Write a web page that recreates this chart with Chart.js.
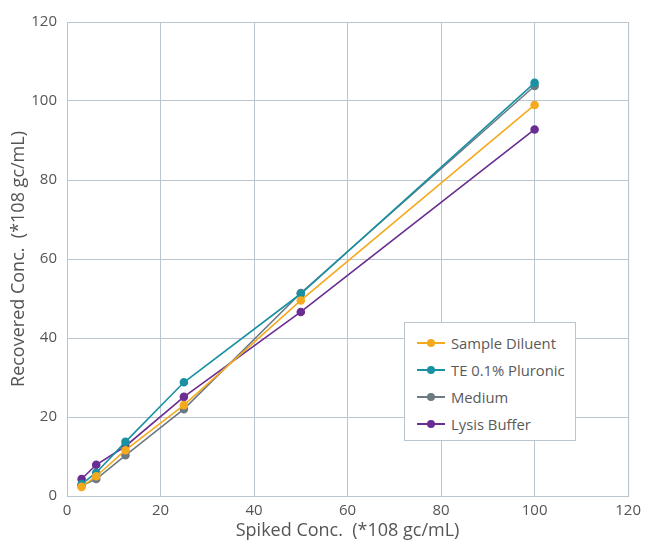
<!DOCTYPE html>
<html lang="en">
<head>
    <meta charset="UTF-8">
    <title>Recovered vs Spiked Concentration</title>
    <script src="https://cdn.jsdelivr.net/npm/chart.js"></script>
    <style>
        * {
            margin: 0;
            padding: 0;
            box-sizing: border-box;
        }

        body {
            background: #ffffff;
            font-family: "Open Sans", "Lato", sans-serif;
        }

        .chart-wrap {
            position: relative;
            width: 647px;
            height: 542px;
        }

        .legend-box {
            position: absolute;
            left: 404px;
            top: 322px;
            width: 172px;
            height: 119px;
            background: #ffffff;
            border: 1px solid #b9c5cf;
            padding: 6px 0 0 12px;
        }

        .legend-item {
            display: flex;
            align-items: center;
            height: 27px;
            font-size: 14.8px;
            color: #5a5a5a;
        }

        .legend-line {
            position: relative;
            width: 28px;
            height: 2px;
            margin-right: 6px;
        }

        .legend-line span {
            position: absolute;
            left: 10px;
            top: -3px;
            width: 8px;
            height: 8px;
            border-radius: 50%;
        }
    </style>
</head>
<body>
    <div class="chart-wrap">
        <canvas id="recovery-chart" width="647" height="542"></canvas>
        <div class="legend-box" id="legend"></div>
    </div>

    <script>
        // values
        const spiked = [3.125, 6.25, 12.5, 25, 50, 100];
        const sampleDiluent = [2.3, 5.0, 11.6, 23.0, 49.5, 99.0];
        const tePluronic = [3.0, 5.9, 13.7, 28.8, 51.2, 104.6];
        const medium = [2.6, 4.3, 10.3, 22.0, 51.4, 103.8];
        const lysisBuffer = [4.3, 7.9, 12.6, 25.1, 46.6, 92.8];

        const seriesNames = ['Sample Diluent', 'TE 0.1% Pluronic', 'Medium', 'Lysis Buffer'];
        const seriesColors = ['#f5a91d', '#1991a3', '#6c7a83', '#6a2d91'];
        const seriesValues = [sampleDiluent, tePluronic, medium, lysisBuffer];

        const gridColor = '#b9c5cf';
        const textColor = '#555555';
        const fontFamily = '"Open Sans", Lato, sans-serif';

        const datasets = seriesNames.map((name, i) => ({
            label: name,
            data: spiked.map((x, j) => ({ x: x, y: seriesValues[i][j] })),
            borderColor: seriesColors[i],
            backgroundColor: seriesColors[i],
            borderWidth: 1.6,
            pointRadius: 3.5,
            pointHoverRadius: 3.5,
            tension: 0
        }));

        const ctx = document.getElementById('recovery-chart').getContext('2d');

        new Chart(ctx, {
            type: 'line',
            data: { datasets: datasets },
            options: {
                responsive: false,
                animation: false,
                layout: {
                    padding: { top: 22, right: 15, left: 0, bottom: 0 }
                },
                plugins: {
                    legend: { display: false },
                    tooltip: { enabled: false }
                },
                scales: {
                    x: {
                        type: 'linear',
                        min: 0,
                        max: 120,
                        ticks: {
                            stepSize: 20,
                            color: textColor,
                            font: { family: fontFamily, size: 15 },
                            padding: 6
                        },
                        grid: { color: gridColor, drawTicks: false },
                        border: { color: gridColor },
                        title: {
                            display: true,
                            text: 'Spiked Conc.  (*108 gc/mL)',
                            color: textColor,
                            font: { family: fontFamily, size: 18 },
                            padding: { top: 0, bottom: 0 }
                        },
                        afterFit: (scale) => { scale.height = 46; }
                    },
                    y: {
                        min: 0,
                        max: 120,
                        ticks: {
                            stepSize: 20,
                            color: textColor,
                            font: { family: fontFamily, size: 15 },
                            padding: 10
                        },
                        grid: { color: gridColor, drawTicks: false },
                        border: { color: gridColor },
                        title: {
                            display: true,
                            text: 'Recovered Conc.  (*108 gc/mL)',
                            color: textColor,
                            font: { family: fontFamily, size: 18 },
                            padding: { top: 8, bottom: 0 }
                        },
                        afterFit: (scale) => { scale.width = 67; }
                    }
                }
            },
            plugins: [{
                id: 'outerBorder',
                afterDraw: (chart) => {
                    const a = chart.chartArea;
                    const c = chart.ctx;
                    c.save();
                    c.strokeStyle = gridColor;
                    c.lineWidth = 1;
                    c.beginPath();
                    c.moveTo(a.left, a.top + 0.5);
                    c.lineTo(a.right + 0.5, a.top + 0.5);
                    c.lineTo(a.right + 0.5, a.bottom);
                    c.stroke();
                    c.restore();
                }
            }]
        });

        // legend
        const legend = document.getElementById('legend');
        seriesNames.forEach((name, i) => {
            const item = document.createElement('div');
            item.className = 'legend-item';
            item.innerHTML = '<div class="legend-line" style="background:' + seriesColors[i] +
                '"><span style="background:' + seriesColors[i] + '"></span></div>' + name;
            legend.appendChild(item);
        });
    </script>
</body>
</html>
